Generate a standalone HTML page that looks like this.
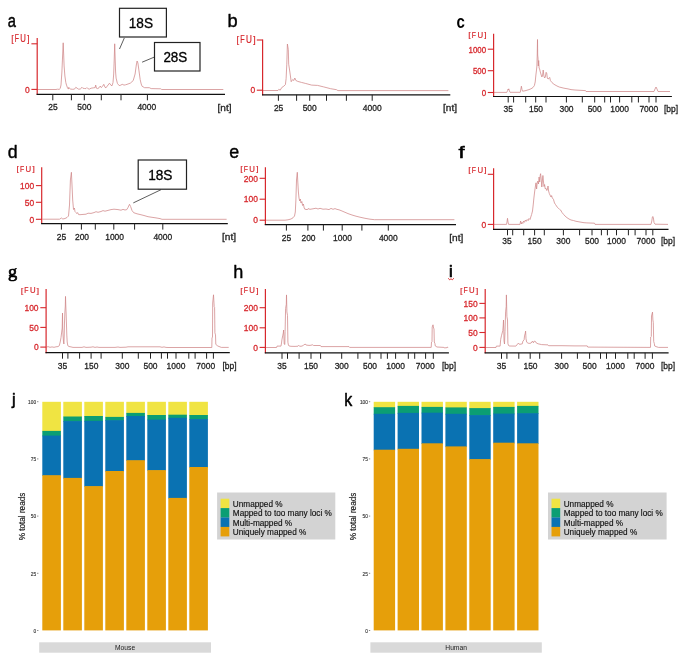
<!DOCTYPE html>
<html><head><meta charset="utf-8"><title>Figure</title>
<style>
html,body{margin:0;padding:0;background:#fff;}
body{width:685px;height:659px;overflow:hidden;font-family:"Liberation Sans",sans-serif;}
svg{display:block;will-change:transform;font-family:"Liberation Sans",sans-serif;}
</style></head><body>
<svg width="685" height="659" viewBox="0 0 685 659">
<rect x="0" y="0" width="685" height="659" fill="#ffffff"/>
<text transform="matrix(0.1471 0 0 0.1764 7.74 27.42)" font-family="Liberation Sans" font-size="100" font-weight="normal" fill="#000" stroke="#000" stroke-width="2.47" stroke-linejoin="round" >a</text>
<polyline points="37.5,89.5 56.0,89.5 57.5,89.2 59.2,89.4 60.2,88.5 61.0,85.0 61.9,72.0 62.5,58.0 63.2,42.8 63.7,55.0 64.1,66.0 64.9,76.0 65.8,82.5 66.5,85.1 67.5,87.8 68.4,89.1 68.8,87.3 69.7,88.6 70.6,89.1 72.8,89.3 74.5,89.1 75.8,87.3 77.1,88.2 78.4,89.1 80.2,89.1 82.0,87.3 82.8,88.2 84.6,88.5 85.9,88.6 86.9,87.6 88.1,88.8 89.4,89.1 91.1,88.2 93.8,87.8 95.1,87.6 95.7,85.1 96.4,88.2 97.7,88.6 99.0,87.8 100.3,86.0 101.2,87.6 102.5,86.4 103.8,84.3 105.0,87.3 106.0,87.8 107.3,86.0 109.5,83.2 110.8,85.1 112.0,85.8 113.0,82.5 113.7,74.0 114.2,60.0 114.7,43.8 115.2,60.0 115.6,72.0 116.1,78.1 117.4,83.4 119.2,85.6 120.9,85.1 122.2,84.3 124.0,85.1 125.6,84.8 128.0,84.0 130.4,83.1 133.2,80.6 135.1,74.0 136.3,65.0 137.1,61.0 137.9,63.0 138.6,68.0 140.2,79.7 141.2,84.0 142.1,86.3 144.6,87.7 149.3,87.7 151.2,88.6 160.7,88.8 161.7,89.5 223.3,89.5" fill="none" stroke="#cf8587" stroke-width="0.75" stroke-linejoin="round"/>
<text transform="matrix(0.0908 0 0 0.0936 11.34 41.76)" font-family="Liberation Sans" font-size="100" font-weight="normal" fill="#d7282d" stroke="#d7282d" stroke-width="1.63" stroke-linejoin="round" >[</text>
<text transform="matrix(0.0682 0 0 0.1016 14.82 42.45)" font-family="Liberation Sans" font-size="100" font-weight="normal" fill="#d7282d" stroke="#d7282d" stroke-width="2.36" stroke-linejoin="round" >F</text>
<text transform="matrix(0.0775 0 0 0.1014 20.35 42.44)" font-family="Liberation Sans" font-size="100" font-weight="normal" fill="#d7282d" stroke="#d7282d" stroke-width="2.24" stroke-linejoin="round" >U</text>
<text transform="matrix(0.0932 0 0 0.0936 27.02 41.76)" font-family="Liberation Sans" font-size="100" font-weight="normal" fill="#d7282d" stroke="#d7282d" stroke-width="1.61" stroke-linejoin="round" >]</text>
<line x1="37.2" y1="38.1" x2="37.2" y2="94.8" stroke="#d7282d" stroke-width="1.2"/>
<line x1="31.4" y1="43.8" x2="37.2" y2="43.8" stroke="#d7282d" stroke-width="1.1"/>
<line x1="31.4" y1="89.4" x2="37.2" y2="89.4" stroke="#d7282d" stroke-width="1.1"/>
<text x="29.7" y="92.6" font-size="9.4" fill="#d7282d" stroke="#d7282d" stroke-width="0.30" text-anchor="end" textLength="4.71" lengthAdjust="spacingAndGlyphs" >0</text>
<line x1="36.6" y1="94.3" x2="225.0" y2="94.3" stroke="#111" stroke-width="1.2"/>
<line x1="52.8" y1="94.3" x2="52.8" y2="100.3" stroke="#222222" stroke-width="1.0"/>
<line x1="71.4" y1="94.3" x2="71.4" y2="100.3" stroke="#222222" stroke-width="1.0"/>
<line x1="84.3" y1="94.3" x2="84.3" y2="100.3" stroke="#222222" stroke-width="1.0"/>
<line x1="101.3" y1="94.3" x2="101.3" y2="100.3" stroke="#222222" stroke-width="1.0"/>
<line x1="121.0" y1="94.3" x2="121.0" y2="100.3" stroke="#222222" stroke-width="1.0"/>
<line x1="147.4" y1="94.3" x2="147.4" y2="100.3" stroke="#222222" stroke-width="1.0"/>
<text x="53.0" y="110.4" font-size="9.4" fill="#222222" stroke="#222222" stroke-width="0.30" text-anchor="middle" textLength="9.41" lengthAdjust="spacingAndGlyphs" >25</text>
<text x="84.3" y="110.4" font-size="9.4" fill="#222222" stroke="#222222" stroke-width="0.30" text-anchor="middle" textLength="14.12" lengthAdjust="spacingAndGlyphs" >500</text>
<text x="146.8" y="110.4" font-size="9.4" fill="#222222" stroke="#222222" stroke-width="0.30" text-anchor="middle" textLength="18.82" lengthAdjust="spacingAndGlyphs" >4000</text>
<text x="217.5" y="110.7" font-size="9.4" fill="#222222" stroke="#222222" stroke-width="0.30" text-anchor="start" textLength="13.98" lengthAdjust="spacingAndGlyphs" >[nt]</text>
<line x1="124.3" y1="38.0" x2="119.5" y2="49.0" stroke="#333" stroke-width="0.8"/>
<rect x="119.5" y="8.3" width="46.9" height="28.7" fill="#fff" stroke="#222" stroke-width="1.2"/>
<text transform="matrix(0.1366 0 0 0.1423 128.73 27.66)" font-family="Liberation Sans" font-size="100" font-weight="normal" fill="#000" stroke="#000" stroke-width="2.15" stroke-linejoin="round" >18S</text>
<line x1="154.5" y1="57.0" x2="142.1" y2="62.2" stroke="#333" stroke-width="0.8"/>
<rect x="154.5" y="42.5" width="45.5" height="28.5" fill="#fff" stroke="#222" stroke-width="1.2"/>
<text transform="matrix(0.1345 0 0 0.1423 163.38 61.76)" font-family="Liberation Sans" font-size="100" font-weight="normal" fill="#000" stroke="#000" stroke-width="2.17" stroke-linejoin="round" >28S</text>
<text transform="matrix(0.1822 0 0 0.1823 227.52 27.42)" font-family="Liberation Sans" font-size="100" font-weight="normal" fill="#000" stroke="#000" stroke-width="2.19" stroke-linejoin="round" >b</text>
<polyline points="263.0,90.5 278.0,90.5 278.8,89.3 280.2,90.2 281.7,87.6 283.9,86.1 285.4,84.6 286.1,78.8 286.8,64.2 287.4,44.0 288.3,49.6 288.7,64.2 290.0,73.0 291.2,81.7 292.7,79.5 293.8,80.5 294.8,78.0 295.9,80.5 297.8,81.4 301.4,82.4 305.8,83.5 311.6,85.1 317.5,85.4 323.3,86.8 330.6,88.7 336.5,89.7 337.9,90.6 448.4,90.6" fill="none" stroke="#cf8587" stroke-width="0.75" stroke-linejoin="round"/>
<text transform="matrix(0.0954 0 0 0.0936 236.61 42.66)" font-family="Liberation Sans" font-size="100" font-weight="normal" fill="#d7282d" stroke="#d7282d" stroke-width="1.59" stroke-linejoin="round" >[</text>
<text transform="matrix(0.0715 0 0 0.1016 240.25 43.35)" font-family="Liberation Sans" font-size="100" font-weight="normal" fill="#d7282d" stroke="#d7282d" stroke-width="2.31" stroke-linejoin="round" >F</text>
<text transform="matrix(0.0813 0 0 0.1014 246.03 43.34)" font-family="Liberation Sans" font-size="100" font-weight="normal" fill="#d7282d" stroke="#d7282d" stroke-width="2.19" stroke-linejoin="round" >U</text>
<text transform="matrix(0.0979 0 0 0.0936 253.02 42.66)" font-family="Liberation Sans" font-size="100" font-weight="normal" fill="#d7282d" stroke="#d7282d" stroke-width="1.57" stroke-linejoin="round" >]</text>
<line x1="262.6" y1="39.4" x2="262.6" y2="95.3" stroke="#d7282d" stroke-width="1.2"/>
<line x1="256.8" y1="40.0" x2="262.6" y2="40.0" stroke="#d7282d" stroke-width="1.1"/>
<line x1="256.8" y1="90.2" x2="262.6" y2="90.2" stroke="#d7282d" stroke-width="1.1"/>
<text x="255.1" y="93.4" font-size="9.4" fill="#d7282d" stroke="#d7282d" stroke-width="0.30" text-anchor="end" textLength="4.71" lengthAdjust="spacingAndGlyphs" >0</text>
<line x1="262.0" y1="94.8" x2="450.3" y2="94.8" stroke="#111" stroke-width="1.2"/>
<line x1="278.4" y1="94.8" x2="278.4" y2="100.8" stroke="#222222" stroke-width="1.0"/>
<line x1="296.6" y1="94.8" x2="296.6" y2="100.8" stroke="#222222" stroke-width="1.0"/>
<line x1="309.7" y1="94.8" x2="309.7" y2="100.8" stroke="#222222" stroke-width="1.0"/>
<line x1="326.5" y1="94.8" x2="326.5" y2="100.8" stroke="#222222" stroke-width="1.0"/>
<line x1="346.4" y1="94.8" x2="346.4" y2="100.8" stroke="#222222" stroke-width="1.0"/>
<line x1="372.2" y1="94.8" x2="372.2" y2="100.8" stroke="#222222" stroke-width="1.0"/>
<text x="278.6" y="110.9" font-size="9.4" fill="#222222" stroke="#222222" stroke-width="0.30" text-anchor="middle" textLength="9.41" lengthAdjust="spacingAndGlyphs" >25</text>
<text x="309.7" y="110.9" font-size="9.4" fill="#222222" stroke="#222222" stroke-width="0.30" text-anchor="middle" textLength="14.12" lengthAdjust="spacingAndGlyphs" >500</text>
<text x="372.2" y="110.9" font-size="9.4" fill="#222222" stroke="#222222" stroke-width="0.30" text-anchor="middle" textLength="18.82" lengthAdjust="spacingAndGlyphs" >4000</text>
<text x="443.0" y="111.2" font-size="9.4" fill="#222222" stroke="#222222" stroke-width="0.30" text-anchor="start" textLength="13.98" lengthAdjust="spacingAndGlyphs" >[nt]</text>
<text transform="matrix(0.1505 0 0 0.1800 456.50 27.72)" font-family="Liberation Sans" font-size="100" font-weight="bold" fill="#000"  >c</text>
<polyline points="494.0,92.4 506.8,92.4 507.6,90.5 508.0,89.2 508.4,90.0 508.8,88.8 509.4,91.0 510.0,92.3 520.3,92.3 520.9,89.0 521.4,86.2 522.0,89.5 522.6,91.2 525.0,90.8 527.0,90.2 529.0,89.6 531.0,88.8 533.0,87.5 534.4,85.5 535.2,82.0 535.9,75.0 536.5,70.0 536.9,66.0 537.2,56.0 537.5,39.5 537.7,55.0 538.0,58.0 538.3,66.0 538.7,60.5 539.1,68.0 539.6,69.0 540.3,72.0 541.2,75.0 541.9,77.0 542.6,75.0 543.2,70.0 543.9,76.0 544.6,78.0 545.3,77.0 546.1,72.3 546.7,73.0 547.3,78.0 548.0,79.0 548.9,78.5 549.7,77.4 550.4,80.5 552.0,82.6 554.0,84.3 557.0,86.0 559.2,87.0 564.0,88.2 568.0,88.9 571.0,89.6 575.0,90.0 580.0,90.3 585.5,90.6 586.0,91.5 654.0,91.5 655.0,89.0 656.0,87.0 657.0,89.0 658.0,91.5 670.0,91.5" fill="none" stroke="#cf8587" stroke-width="0.75" stroke-linejoin="round"/>
<text transform="matrix(0.0914 0 0 0.0807 468.34 37.33)" font-family="Liberation Sans" font-size="100" font-weight="normal" fill="#d7282d" stroke="#d7282d" stroke-width="1.74" stroke-linejoin="round" >[</text>
<text transform="matrix(0.0686 0 0 0.0875 471.84 37.92)" font-family="Liberation Sans" font-size="100" font-weight="normal" fill="#d7282d" stroke="#d7282d" stroke-width="2.56" stroke-linejoin="round" >F</text>
<text transform="matrix(0.0780 0 0 0.0873 477.39 37.91)" font-family="Liberation Sans" font-size="100" font-weight="normal" fill="#d7282d" stroke="#d7282d" stroke-width="2.42" stroke-linejoin="round" >U</text>
<text transform="matrix(0.0937 0 0 0.0807 484.10 37.33)" font-family="Liberation Sans" font-size="100" font-weight="normal" fill="#d7282d" stroke="#d7282d" stroke-width="1.72" stroke-linejoin="round" >]</text>
<line x1="493.6" y1="33.7" x2="493.6" y2="97.0" stroke="#d7282d" stroke-width="1.2"/>
<line x1="487.8" y1="49.2" x2="493.6" y2="49.2" stroke="#d7282d" stroke-width="1.1"/>
<text x="486.1" y="52.7" font-size="8.3" fill="#d7282d" stroke="#d7282d" stroke-width="0.30" text-anchor="end" textLength="17.54" lengthAdjust="spacingAndGlyphs" >1000</text>
<line x1="487.8" y1="70.7" x2="493.6" y2="70.7" stroke="#d7282d" stroke-width="1.1"/>
<text x="486.1" y="74.2" font-size="8.3" fill="#d7282d" stroke="#d7282d" stroke-width="0.30" text-anchor="end" textLength="13.16" lengthAdjust="spacingAndGlyphs" >500</text>
<line x1="487.8" y1="92.5" x2="493.6" y2="92.5" stroke="#d7282d" stroke-width="1.1"/>
<text x="486.1" y="96.0" font-size="8.3" fill="#d7282d" stroke="#d7282d" stroke-width="0.30" text-anchor="end" textLength="4.39" lengthAdjust="spacingAndGlyphs" >0</text>
<line x1="493.0" y1="96.5" x2="671.9" y2="96.5" stroke="#111" stroke-width="1.2"/>
<line x1="508.2" y1="96.5" x2="508.2" y2="102.5" stroke="#222222" stroke-width="1.0"/>
<line x1="513.6" y1="96.5" x2="513.6" y2="102.5" stroke="#222222" stroke-width="1.0"/>
<line x1="525.7" y1="96.5" x2="525.7" y2="102.5" stroke="#222222" stroke-width="1.0"/>
<line x1="535.7" y1="96.5" x2="535.7" y2="102.5" stroke="#222222" stroke-width="1.0"/>
<line x1="546.0" y1="96.5" x2="546.0" y2="102.5" stroke="#222222" stroke-width="1.0"/>
<line x1="566.4" y1="96.5" x2="566.4" y2="102.5" stroke="#222222" stroke-width="1.0"/>
<line x1="582.3" y1="96.5" x2="582.3" y2="102.5" stroke="#222222" stroke-width="1.0"/>
<line x1="594.7" y1="96.5" x2="594.7" y2="102.5" stroke="#222222" stroke-width="1.0"/>
<line x1="604.7" y1="96.5" x2="604.7" y2="102.5" stroke="#222222" stroke-width="1.0"/>
<line x1="610.5" y1="96.5" x2="610.5" y2="102.5" stroke="#222222" stroke-width="1.0"/>
<line x1="619.6" y1="96.5" x2="619.6" y2="102.5" stroke="#222222" stroke-width="1.0"/>
<line x1="631.8" y1="96.5" x2="631.8" y2="102.5" stroke="#222222" stroke-width="1.0"/>
<line x1="638.4" y1="96.5" x2="638.4" y2="102.5" stroke="#222222" stroke-width="1.0"/>
<line x1="649.0" y1="96.5" x2="649.0" y2="102.5" stroke="#222222" stroke-width="1.0"/>
<line x1="656.0" y1="96.5" x2="656.0" y2="102.5" stroke="#222222" stroke-width="1.0"/>
<text x="508.2" y="112.0" font-size="9.4" fill="#222222" stroke="#222222" stroke-width="0.30" text-anchor="middle" textLength="9.41" lengthAdjust="spacingAndGlyphs" >35</text>
<text x="536.0" y="112.0" font-size="9.4" fill="#222222" stroke="#222222" stroke-width="0.30" text-anchor="middle" textLength="14.12" lengthAdjust="spacingAndGlyphs" >150</text>
<text x="566.5" y="112.0" font-size="9.4" fill="#222222" stroke="#222222" stroke-width="0.30" text-anchor="middle" textLength="14.12" lengthAdjust="spacingAndGlyphs" >300</text>
<text x="594.7" y="112.0" font-size="9.4" fill="#222222" stroke="#222222" stroke-width="0.30" text-anchor="middle" textLength="14.12" lengthAdjust="spacingAndGlyphs" >500</text>
<text x="619.6" y="112.0" font-size="9.4" fill="#222222" stroke="#222222" stroke-width="0.30" text-anchor="middle" textLength="18.82" lengthAdjust="spacingAndGlyphs" >1000</text>
<text x="648.8" y="112.0" font-size="9.4" fill="#222222" stroke="#222222" stroke-width="0.30" text-anchor="middle" textLength="18.82" lengthAdjust="spacingAndGlyphs" >7000</text>
<text x="664.0" y="112.0" font-size="9.4" fill="#222222" stroke="#222222" stroke-width="0.30" text-anchor="start" textLength="14.11" lengthAdjust="spacingAndGlyphs" >[bp]</text>
<text transform="matrix(0.1778 0 0 0.1755 7.69 157.82)" font-family="Liberation Sans" font-size="100" font-weight="normal" fill="#000" stroke="#000" stroke-width="2.26" stroke-linejoin="round" >d</text>
<polyline points="42.3,219.2 59.5,219.2 61.5,218.0 62.8,219.0 65.0,218.5 67.0,217.5 68.5,216.0 69.5,205.0 70.4,180.0 71.4,172.3 72.0,185.0 72.7,200.0 73.5,209.5 74.4,208.0 75.0,211.5 76.0,212.5 76.8,213.6 77.6,212.6 78.6,214.6 80.0,214.7 82.0,214.5 86.0,214.2 88.0,213.2 91.0,213.4 94.0,212.6 96.0,211.7 98.0,212.3 101.0,211.5 103.0,210.6 105.0,211.2 108.0,210.4 111.0,209.6 114.0,209.2 118.0,209.6 121.0,210.2 123.0,209.4 125.0,210.0 126.8,209.6 128.0,207.5 129.5,204.3 130.6,206.5 132.0,210.5 133.7,212.7 137.0,213.8 140.0,214.5 144.0,215.5 148.0,216.7 152.0,217.3 156.0,217.9 160.0,218.6 162.0,219.3 226.6,219.3" fill="none" stroke="#cf8587" stroke-width="0.75" stroke-linejoin="round"/>
<text transform="matrix(0.0914 0 0 0.0807 16.44 170.93)" font-family="Liberation Sans" font-size="100" font-weight="normal" fill="#d7282d" stroke="#d7282d" stroke-width="1.74" stroke-linejoin="round" >[</text>
<text transform="matrix(0.0686 0 0 0.0875 19.94 171.52)" font-family="Liberation Sans" font-size="100" font-weight="normal" fill="#d7282d" stroke="#d7282d" stroke-width="2.56" stroke-linejoin="round" >F</text>
<text transform="matrix(0.0780 0 0 0.0873 25.49 171.51)" font-family="Liberation Sans" font-size="100" font-weight="normal" fill="#d7282d" stroke="#d7282d" stroke-width="2.42" stroke-linejoin="round" >U</text>
<text transform="matrix(0.0937 0 0 0.0807 32.20 170.93)" font-family="Liberation Sans" font-size="100" font-weight="normal" fill="#d7282d" stroke="#d7282d" stroke-width="1.72" stroke-linejoin="round" >]</text>
<line x1="41.7" y1="167.3" x2="41.7" y2="224.1" stroke="#d7282d" stroke-width="1.2"/>
<line x1="35.9" y1="185.6" x2="41.7" y2="185.6" stroke="#d7282d" stroke-width="1.1"/>
<text x="34.2" y="188.8" font-size="9.4" fill="#d7282d" stroke="#d7282d" stroke-width="0.30" text-anchor="end" textLength="14.12" lengthAdjust="spacingAndGlyphs" >100</text>
<line x1="35.9" y1="202.3" x2="41.7" y2="202.3" stroke="#d7282d" stroke-width="1.1"/>
<text x="34.2" y="205.5" font-size="9.4" fill="#d7282d" stroke="#d7282d" stroke-width="0.30" text-anchor="end" textLength="9.41" lengthAdjust="spacingAndGlyphs" >50</text>
<line x1="35.9" y1="219.3" x2="41.7" y2="219.3" stroke="#d7282d" stroke-width="1.1"/>
<text x="34.2" y="222.5" font-size="9.4" fill="#d7282d" stroke="#d7282d" stroke-width="0.30" text-anchor="end" textLength="4.71" lengthAdjust="spacingAndGlyphs" >0</text>
<line x1="41.1" y1="223.6" x2="227.8" y2="223.6" stroke="#111" stroke-width="1.2"/>
<line x1="61.4" y1="223.6" x2="61.4" y2="229.6" stroke="#222222" stroke-width="1.0"/>
<line x1="81.4" y1="223.6" x2="81.4" y2="229.6" stroke="#222222" stroke-width="1.0"/>
<line x1="95.3" y1="223.6" x2="95.3" y2="229.6" stroke="#222222" stroke-width="1.0"/>
<line x1="113.8" y1="223.6" x2="113.8" y2="229.6" stroke="#222222" stroke-width="1.0"/>
<line x1="134.6" y1="223.6" x2="134.6" y2="229.6" stroke="#222222" stroke-width="1.0"/>
<line x1="162.8" y1="223.6" x2="162.8" y2="229.6" stroke="#222222" stroke-width="1.0"/>
<text x="61.4" y="239.7" font-size="9.4" fill="#222222" stroke="#222222" stroke-width="0.30" text-anchor="middle" textLength="9.41" lengthAdjust="spacingAndGlyphs" >25</text>
<text x="82.0" y="239.7" font-size="9.4" fill="#222222" stroke="#222222" stroke-width="0.30" text-anchor="middle" textLength="14.12" lengthAdjust="spacingAndGlyphs" >200</text>
<text x="114.6" y="239.7" font-size="9.4" fill="#222222" stroke="#222222" stroke-width="0.30" text-anchor="middle" textLength="18.82" lengthAdjust="spacingAndGlyphs" >1000</text>
<text x="162.8" y="239.7" font-size="9.4" fill="#222222" stroke="#222222" stroke-width="0.30" text-anchor="middle" textLength="18.82" lengthAdjust="spacingAndGlyphs" >4000</text>
<text x="222.0" y="240.0" font-size="9.4" fill="#222222" stroke="#222222" stroke-width="0.30" text-anchor="start" textLength="13.98" lengthAdjust="spacingAndGlyphs" >[nt]</text>
<line x1="161.0" y1="189.7" x2="133.3" y2="202.9" stroke="#333" stroke-width="0.8"/>
<rect x="138.2" y="160.0" width="48.3" height="29.2" fill="#fff" stroke="#222" stroke-width="1.2"/>
<text transform="matrix(0.1366 0 0 0.1423 148.13 179.61)" font-family="Liberation Sans" font-size="100" font-weight="normal" fill="#000" stroke="#000" stroke-width="2.15" stroke-linejoin="round" >18S</text>
<text transform="matrix(0.1785 0 0 0.1800 229.30 158.02)" font-family="Liberation Sans" font-size="100" font-weight="normal" fill="#000" stroke="#000" stroke-width="2.23" stroke-linejoin="round" >e</text>
<polyline points="265.8,220.2 285.0,220.2 288.0,219.8 291.0,219.0 293.0,217.8 294.5,216.0 295.3,212.0 295.9,200.0 296.5,180.0 297.3,172.3 297.8,182.0 298.4,192.0 299.0,198.0 299.7,201.0 300.3,199.0 301.0,203.0 301.8,201.5 302.6,205.5 303.4,204.0 304.2,208.0 305.0,209.5 306.0,209.0 307.0,210.0 308.0,208.6 310.0,209.3 313.0,208.8 316.0,208.2 318.0,209.0 320.0,208.3 323.0,209.2 326.0,209.0 329.0,209.6 331.0,208.4 333.0,209.3 335.0,208.6 337.0,209.4 339.0,209.8 342.0,211.0 345.0,212.3 348.0,213.6 352.0,215.0 356.0,216.2 360.0,217.2 365.0,218.3 370.0,219.2 374.6,219.7 454.4,219.7" fill="none" stroke="#cf8587" stroke-width="0.75" stroke-linejoin="round"/>
<text transform="matrix(0.0914 0 0 0.0807 240.14 170.93)" font-family="Liberation Sans" font-size="100" font-weight="normal" fill="#d7282d" stroke="#d7282d" stroke-width="1.74" stroke-linejoin="round" >[</text>
<text transform="matrix(0.0686 0 0 0.0875 243.64 171.52)" font-family="Liberation Sans" font-size="100" font-weight="normal" fill="#d7282d" stroke="#d7282d" stroke-width="2.56" stroke-linejoin="round" >F</text>
<text transform="matrix(0.0780 0 0 0.0873 249.19 171.51)" font-family="Liberation Sans" font-size="100" font-weight="normal" fill="#d7282d" stroke="#d7282d" stroke-width="2.42" stroke-linejoin="round" >U</text>
<text transform="matrix(0.0937 0 0 0.0807 255.90 170.93)" font-family="Liberation Sans" font-size="100" font-weight="normal" fill="#d7282d" stroke="#d7282d" stroke-width="1.72" stroke-linejoin="round" >]</text>
<line x1="265.4" y1="167.3" x2="265.4" y2="225.1" stroke="#d7282d" stroke-width="1.2"/>
<line x1="259.6" y1="178.3" x2="265.4" y2="178.3" stroke="#d7282d" stroke-width="1.1"/>
<text x="257.9" y="181.5" font-size="9.4" fill="#d7282d" stroke="#d7282d" stroke-width="0.30" text-anchor="end" textLength="14.12" lengthAdjust="spacingAndGlyphs" >200</text>
<line x1="259.6" y1="199.2" x2="265.4" y2="199.2" stroke="#d7282d" stroke-width="1.1"/>
<text x="257.9" y="202.4" font-size="9.4" fill="#d7282d" stroke="#d7282d" stroke-width="0.30" text-anchor="end" textLength="14.12" lengthAdjust="spacingAndGlyphs" >100</text>
<line x1="259.6" y1="220.2" x2="265.4" y2="220.2" stroke="#d7282d" stroke-width="1.1"/>
<text x="257.9" y="223.4" font-size="9.4" fill="#d7282d" stroke="#d7282d" stroke-width="0.30" text-anchor="end" textLength="4.71" lengthAdjust="spacingAndGlyphs" >0</text>
<line x1="264.8" y1="224.6" x2="456.0" y2="224.6" stroke="#111" stroke-width="1.2"/>
<line x1="286.4" y1="224.6" x2="286.4" y2="230.6" stroke="#222222" stroke-width="1.0"/>
<line x1="307.9" y1="224.6" x2="307.9" y2="230.6" stroke="#222222" stroke-width="1.0"/>
<line x1="323.4" y1="224.6" x2="323.4" y2="230.6" stroke="#222222" stroke-width="1.0"/>
<line x1="342.2" y1="224.6" x2="342.2" y2="230.6" stroke="#222222" stroke-width="1.0"/>
<line x1="361.9" y1="224.6" x2="361.9" y2="230.6" stroke="#222222" stroke-width="1.0"/>
<line x1="388.3" y1="224.6" x2="388.3" y2="230.6" stroke="#222222" stroke-width="1.0"/>
<text x="286.4" y="240.7" font-size="9.4" fill="#222222" stroke="#222222" stroke-width="0.30" text-anchor="middle" textLength="9.41" lengthAdjust="spacingAndGlyphs" >25</text>
<text x="308.5" y="240.7" font-size="9.4" fill="#222222" stroke="#222222" stroke-width="0.30" text-anchor="middle" textLength="14.12" lengthAdjust="spacingAndGlyphs" >200</text>
<text x="342.5" y="240.7" font-size="9.4" fill="#222222" stroke="#222222" stroke-width="0.30" text-anchor="middle" textLength="18.82" lengthAdjust="spacingAndGlyphs" >1000</text>
<text x="388.3" y="240.7" font-size="9.4" fill="#222222" stroke="#222222" stroke-width="0.30" text-anchor="middle" textLength="18.82" lengthAdjust="spacingAndGlyphs" >4000</text>
<text x="449.3" y="241.0" font-size="9.4" fill="#222222" stroke="#222222" stroke-width="0.30" text-anchor="start" textLength="13.98" lengthAdjust="spacingAndGlyphs" >[nt]</text>
<text transform="matrix(0.2189 0 0 0.1724 458.47 157.70)" font-family="Liberation Sans" font-size="100" font-weight="normal" fill="#000" stroke="#000" stroke-width="3.07" stroke-linejoin="round" >f</text>
<polyline points="494.0,224.4 506.5,224.4 507.0,222.0 507.5,218.3 508.0,222.0 508.6,224.4 520.0,224.4 520.6,221.0 521.3,224.0 522.0,222.3 522.8,223.5 523.6,221.0 524.5,222.3 525.4,220.0 526.3,221.3 527.2,219.5 528.2,220.6 529.0,218.5 530.0,219.5 530.8,217.0 531.6,214.5 532.5,211.0 533.2,205.0 533.9,198.0 534.6,192.0 535.3,187.0 536.0,182.8 536.6,189.0 537.2,183.0 537.9,181.0 538.5,184.0 539.1,177.0 539.7,182.0 540.2,175.5 540.6,173.7 541.2,179.0 541.8,187.0 542.4,181.0 542.9,175.5 543.4,181.0 544.0,186.5 544.6,184.5 545.2,188.8 546.0,188.3 546.8,190.5 547.5,189.0 548.0,186.0 548.6,191.0 549.3,193.5 550.0,195.0 551.0,197.0 551.6,195.6 552.3,198.0 553.4,199.2 554.5,203.0 555.5,204.5 556.5,206.0 557.5,207.5 558.5,208.3 559.5,209.3 560.6,210.0 562.0,212.5 563.5,214.3 565.0,216.0 567.0,217.7 569.0,219.0 571.0,220.0 573.4,220.5 576.0,221.3 580.0,222.0 584.0,222.7 586.9,222.9 594.5,223.2 595.0,224.4 651.0,224.4 651.8,221.0 652.4,217.0 652.8,216.5 653.4,218.0 654.0,222.5 655.0,224.2 668.0,224.4" fill="none" stroke="#cf8587" stroke-width="0.75" stroke-linejoin="round"/>
<text transform="matrix(0.0914 0 0 0.0807 468.34 171.93)" font-family="Liberation Sans" font-size="100" font-weight="normal" fill="#d7282d" stroke="#d7282d" stroke-width="1.74" stroke-linejoin="round" >[</text>
<text transform="matrix(0.0686 0 0 0.0875 471.84 172.52)" font-family="Liberation Sans" font-size="100" font-weight="normal" fill="#d7282d" stroke="#d7282d" stroke-width="2.56" stroke-linejoin="round" >F</text>
<text transform="matrix(0.0780 0 0 0.0873 477.39 172.51)" font-family="Liberation Sans" font-size="100" font-weight="normal" fill="#d7282d" stroke="#d7282d" stroke-width="2.42" stroke-linejoin="round" >U</text>
<text transform="matrix(0.0937 0 0 0.0807 484.10 171.93)" font-family="Liberation Sans" font-size="100" font-weight="normal" fill="#d7282d" stroke="#d7282d" stroke-width="1.72" stroke-linejoin="round" >]</text>
<line x1="493.6" y1="168.3" x2="493.6" y2="229.8" stroke="#d7282d" stroke-width="1.2"/>
<line x1="487.8" y1="174.3" x2="493.6" y2="174.3" stroke="#d7282d" stroke-width="1.1"/>
<line x1="487.8" y1="224.4" x2="493.6" y2="224.4" stroke="#d7282d" stroke-width="1.1"/>
<text x="486.1" y="227.6" font-size="9.4" fill="#d7282d" stroke="#d7282d" stroke-width="0.30" text-anchor="end" textLength="4.71" lengthAdjust="spacingAndGlyphs" >0</text>
<line x1="493.0" y1="229.3" x2="668.5" y2="229.3" stroke="#111" stroke-width="1.2"/>
<line x1="507.5" y1="229.3" x2="507.5" y2="235.3" stroke="#222222" stroke-width="1.0"/>
<line x1="512.7" y1="229.3" x2="512.7" y2="235.3" stroke="#222222" stroke-width="1.0"/>
<line x1="523.7" y1="229.3" x2="523.7" y2="235.3" stroke="#222222" stroke-width="1.0"/>
<line x1="534.6" y1="229.3" x2="534.6" y2="235.3" stroke="#222222" stroke-width="1.0"/>
<line x1="544.3" y1="229.3" x2="544.3" y2="235.3" stroke="#222222" stroke-width="1.0"/>
<line x1="563.4" y1="229.3" x2="563.4" y2="235.3" stroke="#222222" stroke-width="1.0"/>
<line x1="579.6" y1="229.3" x2="579.6" y2="235.3" stroke="#222222" stroke-width="1.0"/>
<line x1="592.0" y1="229.3" x2="592.0" y2="235.3" stroke="#222222" stroke-width="1.0"/>
<line x1="601.4" y1="229.3" x2="601.4" y2="235.3" stroke="#222222" stroke-width="1.0"/>
<line x1="607.4" y1="229.3" x2="607.4" y2="235.3" stroke="#222222" stroke-width="1.0"/>
<line x1="616.5" y1="229.3" x2="616.5" y2="235.3" stroke="#222222" stroke-width="1.0"/>
<line x1="628.4" y1="229.3" x2="628.4" y2="235.3" stroke="#222222" stroke-width="1.0"/>
<line x1="635.1" y1="229.3" x2="635.1" y2="235.3" stroke="#222222" stroke-width="1.0"/>
<line x1="646.0" y1="229.3" x2="646.0" y2="235.3" stroke="#222222" stroke-width="1.0"/>
<line x1="652.8" y1="229.3" x2="652.8" y2="235.3" stroke="#222222" stroke-width="1.0"/>
<text x="507.0" y="243.8" font-size="9.4" fill="#222222" stroke="#222222" stroke-width="0.30" text-anchor="middle" textLength="9.41" lengthAdjust="spacingAndGlyphs" >35</text>
<text x="534.6" y="243.8" font-size="9.4" fill="#222222" stroke="#222222" stroke-width="0.30" text-anchor="middle" textLength="14.12" lengthAdjust="spacingAndGlyphs" >150</text>
<text x="563.4" y="243.8" font-size="9.4" fill="#222222" stroke="#222222" stroke-width="0.30" text-anchor="middle" textLength="14.12" lengthAdjust="spacingAndGlyphs" >300</text>
<text x="592.0" y="243.8" font-size="9.4" fill="#222222" stroke="#222222" stroke-width="0.30" text-anchor="middle" textLength="14.12" lengthAdjust="spacingAndGlyphs" >500</text>
<text x="616.5" y="243.8" font-size="9.4" fill="#222222" stroke="#222222" stroke-width="0.30" text-anchor="middle" textLength="18.82" lengthAdjust="spacingAndGlyphs" >1000</text>
<text x="646.0" y="243.8" font-size="9.4" fill="#222222" stroke="#222222" stroke-width="0.30" text-anchor="middle" textLength="18.82" lengthAdjust="spacingAndGlyphs" >7000</text>
<text x="661.0" y="243.8" font-size="9.4" fill="#222222" stroke="#222222" stroke-width="0.30" text-anchor="start" textLength="14.11" lengthAdjust="spacingAndGlyphs" >[bp]</text>
<text transform="matrix(0.1839 0 0 0.1655 8.02 276.99)" font-family="Liberation Serif" font-size="100" font-weight="normal" fill="#000" stroke="#000" stroke-width="4.01" stroke-linejoin="round" >g</text>
<polyline points="46.5,347.2 48.0,346.6 50.0,347.3 52.0,346.9 54.0,347.3 56.0,346.8 58.0,346.6 59.3,345.7 60.2,342.0 61.0,337.6 61.7,332.0 62.2,328.0 62.5,313.0 62.7,328.0 63.1,336.0 63.5,342.0 63.9,344.0 64.2,336.0 64.5,322.0 64.9,312.0 65.3,306.0 65.5,296.4 65.8,306.0 66.1,313.0 66.4,322.0 66.8,335.0 67.2,342.0 67.8,345.7 69.0,346.5 71.0,346.9 73.0,347.4 82.0,347.4 84.0,346.8 86.0,347.4 91.0,347.2 93.0,346.8 95.0,347.4 97.0,347.0 99.0,347.4 115.0,347.4 118.0,347.0 120.0,347.4 126.0,347.2 128.0,346.8 160.0,346.8 162.0,347.3 164.0,346.9 166.0,347.4 168.0,347.5 211.8,347.5 212.0,338.0 212.5,337.0 212.7,303.0 213.5,294.8 214.2,306.8 214.6,307.3 214.9,332.8 215.5,334.9 215.8,344.4 217.8,346.0 221.3,347.4 228.7,347.4" fill="none" stroke="#cf8587" stroke-width="0.75" stroke-linejoin="round"/>
<text transform="matrix(0.0914 0 0 0.0807 20.84 292.73)" font-family="Liberation Sans" font-size="100" font-weight="normal" fill="#d7282d" stroke="#d7282d" stroke-width="1.74" stroke-linejoin="round" >[</text>
<text transform="matrix(0.0686 0 0 0.0875 24.34 293.32)" font-family="Liberation Sans" font-size="100" font-weight="normal" fill="#d7282d" stroke="#d7282d" stroke-width="2.56" stroke-linejoin="round" >F</text>
<text transform="matrix(0.0780 0 0 0.0873 29.89 293.31)" font-family="Liberation Sans" font-size="100" font-weight="normal" fill="#d7282d" stroke="#d7282d" stroke-width="2.42" stroke-linejoin="round" >U</text>
<text transform="matrix(0.0937 0 0 0.0807 36.60 292.73)" font-family="Liberation Sans" font-size="100" font-weight="normal" fill="#d7282d" stroke="#d7282d" stroke-width="1.72" stroke-linejoin="round" >]</text>
<line x1="46.1" y1="289.1" x2="46.1" y2="353.2" stroke="#d7282d" stroke-width="1.2"/>
<line x1="40.3" y1="307.7" x2="46.1" y2="307.7" stroke="#d7282d" stroke-width="1.1"/>
<text x="38.6" y="310.9" font-size="9.4" fill="#d7282d" stroke="#d7282d" stroke-width="0.30" text-anchor="end" textLength="14.12" lengthAdjust="spacingAndGlyphs" >100</text>
<line x1="40.3" y1="327.4" x2="46.1" y2="327.4" stroke="#d7282d" stroke-width="1.1"/>
<text x="38.6" y="330.6" font-size="9.4" fill="#d7282d" stroke="#d7282d" stroke-width="0.30" text-anchor="end" textLength="9.41" lengthAdjust="spacingAndGlyphs" >50</text>
<line x1="40.3" y1="347.1" x2="46.1" y2="347.1" stroke="#d7282d" stroke-width="1.1"/>
<text x="38.6" y="350.3" font-size="9.4" fill="#d7282d" stroke="#d7282d" stroke-width="0.30" text-anchor="end" textLength="4.71" lengthAdjust="spacingAndGlyphs" >0</text>
<line x1="45.5" y1="352.7" x2="229.8" y2="352.7" stroke="#111" stroke-width="1.2"/>
<line x1="62.5" y1="352.7" x2="62.5" y2="358.7" stroke="#222222" stroke-width="1.0"/>
<line x1="67.9" y1="352.7" x2="67.9" y2="358.7" stroke="#222222" stroke-width="1.0"/>
<line x1="79.6" y1="352.7" x2="79.6" y2="358.7" stroke="#222222" stroke-width="1.0"/>
<line x1="91.1" y1="352.7" x2="91.1" y2="358.7" stroke="#222222" stroke-width="1.0"/>
<line x1="101.1" y1="352.7" x2="101.1" y2="358.7" stroke="#222222" stroke-width="1.0"/>
<line x1="122.3" y1="352.7" x2="122.3" y2="358.7" stroke="#222222" stroke-width="1.0"/>
<line x1="138.3" y1="352.7" x2="138.3" y2="358.7" stroke="#222222" stroke-width="1.0"/>
<line x1="150.5" y1="352.7" x2="150.5" y2="358.7" stroke="#222222" stroke-width="1.0"/>
<line x1="161.4" y1="352.7" x2="161.4" y2="358.7" stroke="#222222" stroke-width="1.0"/>
<line x1="167.5" y1="352.7" x2="167.5" y2="358.7" stroke="#222222" stroke-width="1.0"/>
<line x1="176.0" y1="352.7" x2="176.0" y2="358.7" stroke="#222222" stroke-width="1.0"/>
<line x1="188.8" y1="352.7" x2="188.8" y2="358.7" stroke="#222222" stroke-width="1.0"/>
<line x1="195.1" y1="352.7" x2="195.1" y2="358.7" stroke="#222222" stroke-width="1.0"/>
<line x1="206.6" y1="352.7" x2="206.6" y2="358.7" stroke="#222222" stroke-width="1.0"/>
<line x1="213.4" y1="352.7" x2="213.4" y2="358.7" stroke="#222222" stroke-width="1.0"/>
<text x="62.5" y="368.5" font-size="9.4" fill="#222222" stroke="#222222" stroke-width="0.30" text-anchor="middle" textLength="9.41" lengthAdjust="spacingAndGlyphs" >35</text>
<text x="91.4" y="368.5" font-size="9.4" fill="#222222" stroke="#222222" stroke-width="0.30" text-anchor="middle" textLength="14.12" lengthAdjust="spacingAndGlyphs" >150</text>
<text x="122.3" y="368.5" font-size="9.4" fill="#222222" stroke="#222222" stroke-width="0.30" text-anchor="middle" textLength="14.12" lengthAdjust="spacingAndGlyphs" >300</text>
<text x="150.5" y="368.5" font-size="9.4" fill="#222222" stroke="#222222" stroke-width="0.30" text-anchor="middle" textLength="14.12" lengthAdjust="spacingAndGlyphs" >500</text>
<text x="176.0" y="368.5" font-size="9.4" fill="#222222" stroke="#222222" stroke-width="0.30" text-anchor="middle" textLength="18.82" lengthAdjust="spacingAndGlyphs" >1000</text>
<text x="205.7" y="368.5" font-size="9.4" fill="#222222" stroke="#222222" stroke-width="0.30" text-anchor="middle" textLength="18.82" lengthAdjust="spacingAndGlyphs" >7000</text>
<text x="222.5" y="368.5" font-size="9.4" fill="#222222" stroke="#222222" stroke-width="0.30" text-anchor="start" textLength="14.11" lengthAdjust="spacingAndGlyphs" >[bp]</text>
<text transform="matrix(0.1810 0 0 0.1848 233.13 277.70)" font-family="Liberation Sans" font-size="100" font-weight="normal" fill="#000" stroke="#000" stroke-width="2.19" stroke-linejoin="round" >h</text>
<polyline points="265.8,347.5 276.6,347.5 277.0,346.1 281.0,346.1 281.5,343.0 281.9,339.9 282.8,335.2 283.3,333.0 283.6,330.0 283.9,336.0 284.2,344.0 284.8,344.6 285.1,331.7 285.6,308.4 286.3,304.3 286.5,294.9 286.9,311.9 287.5,315.4 287.9,342.2 288.4,345.0 289.1,346.0 291.0,346.3 295.0,346.4 298.0,346.2 298.8,345.3 299.6,346.3 302.0,346.1 303.5,345.2 305.2,344.0 306.0,345.0 308.0,345.3 310.0,345.4 312.8,344.8 313.6,345.5 320.4,345.5 321.0,346.6 349.0,346.6 349.6,347.4 431.2,347.4 431.5,342.0 432.0,341.5 432.2,327.0 433.0,324.8 433.6,328.0 434.0,329.0 434.3,342.0 434.9,343.5 435.3,346.0 437.0,347.0 444.0,347.4 445.0,348.2 446.0,347.4 447.0,348.0 447.6,347.0 448.2,347.4" fill="none" stroke="#cf8587" stroke-width="0.75" stroke-linejoin="round"/>
<text transform="matrix(0.0914 0 0 0.0807 240.14 292.73)" font-family="Liberation Sans" font-size="100" font-weight="normal" fill="#d7282d" stroke="#d7282d" stroke-width="1.74" stroke-linejoin="round" >[</text>
<text transform="matrix(0.0686 0 0 0.0875 243.64 293.32)" font-family="Liberation Sans" font-size="100" font-weight="normal" fill="#d7282d" stroke="#d7282d" stroke-width="2.56" stroke-linejoin="round" >F</text>
<text transform="matrix(0.0780 0 0 0.0873 249.19 293.31)" font-family="Liberation Sans" font-size="100" font-weight="normal" fill="#d7282d" stroke="#d7282d" stroke-width="2.42" stroke-linejoin="round" >U</text>
<text transform="matrix(0.0937 0 0 0.0807 255.90 292.73)" font-family="Liberation Sans" font-size="100" font-weight="normal" fill="#d7282d" stroke="#d7282d" stroke-width="1.72" stroke-linejoin="round" >]</text>
<line x1="265.4" y1="289.1" x2="265.4" y2="353.3" stroke="#d7282d" stroke-width="1.2"/>
<line x1="259.6" y1="307.7" x2="265.4" y2="307.7" stroke="#d7282d" stroke-width="1.1"/>
<text x="257.9" y="310.9" font-size="9.4" fill="#d7282d" stroke="#d7282d" stroke-width="0.30" text-anchor="end" textLength="14.12" lengthAdjust="spacingAndGlyphs" >200</text>
<line x1="259.6" y1="327.8" x2="265.4" y2="327.8" stroke="#d7282d" stroke-width="1.1"/>
<text x="257.9" y="331.0" font-size="9.4" fill="#d7282d" stroke="#d7282d" stroke-width="0.30" text-anchor="end" textLength="14.12" lengthAdjust="spacingAndGlyphs" >100</text>
<line x1="259.6" y1="347.4" x2="265.4" y2="347.4" stroke="#d7282d" stroke-width="1.1"/>
<text x="257.9" y="350.6" font-size="9.4" fill="#d7282d" stroke="#d7282d" stroke-width="0.30" text-anchor="end" textLength="4.71" lengthAdjust="spacingAndGlyphs" >0</text>
<line x1="264.8" y1="352.8" x2="448.9" y2="352.8" stroke="#111" stroke-width="1.2"/>
<line x1="282.0" y1="352.8" x2="282.0" y2="358.8" stroke="#222222" stroke-width="1.0"/>
<line x1="287.5" y1="352.8" x2="287.5" y2="358.8" stroke="#222222" stroke-width="1.0"/>
<line x1="299.1" y1="352.8" x2="299.1" y2="358.8" stroke="#222222" stroke-width="1.0"/>
<line x1="311.0" y1="352.8" x2="311.0" y2="358.8" stroke="#222222" stroke-width="1.0"/>
<line x1="320.6" y1="352.8" x2="320.6" y2="358.8" stroke="#222222" stroke-width="1.0"/>
<line x1="341.7" y1="352.8" x2="341.7" y2="358.8" stroke="#222222" stroke-width="1.0"/>
<line x1="357.9" y1="352.8" x2="357.9" y2="358.8" stroke="#222222" stroke-width="1.0"/>
<line x1="370.0" y1="352.8" x2="370.0" y2="358.8" stroke="#222222" stroke-width="1.0"/>
<line x1="381.0" y1="352.8" x2="381.0" y2="358.8" stroke="#222222" stroke-width="1.0"/>
<line x1="387.4" y1="352.8" x2="387.4" y2="358.8" stroke="#222222" stroke-width="1.0"/>
<line x1="395.6" y1="352.8" x2="395.6" y2="358.8" stroke="#222222" stroke-width="1.0"/>
<line x1="408.3" y1="352.8" x2="408.3" y2="358.8" stroke="#222222" stroke-width="1.0"/>
<line x1="414.7" y1="352.8" x2="414.7" y2="358.8" stroke="#222222" stroke-width="1.0"/>
<line x1="425.6" y1="352.8" x2="425.6" y2="358.8" stroke="#222222" stroke-width="1.0"/>
<line x1="433.3" y1="352.8" x2="433.3" y2="358.8" stroke="#222222" stroke-width="1.0"/>
<text x="282.0" y="368.6" font-size="9.4" fill="#222222" stroke="#222222" stroke-width="0.30" text-anchor="middle" textLength="9.41" lengthAdjust="spacingAndGlyphs" >35</text>
<text x="311.0" y="368.6" font-size="9.4" fill="#222222" stroke="#222222" stroke-width="0.30" text-anchor="middle" textLength="14.12" lengthAdjust="spacingAndGlyphs" >150</text>
<text x="341.7" y="368.6" font-size="9.4" fill="#222222" stroke="#222222" stroke-width="0.30" text-anchor="middle" textLength="14.12" lengthAdjust="spacingAndGlyphs" >300</text>
<text x="370.0" y="368.6" font-size="9.4" fill="#222222" stroke="#222222" stroke-width="0.30" text-anchor="middle" textLength="14.12" lengthAdjust="spacingAndGlyphs" >500</text>
<text x="395.6" y="368.6" font-size="9.4" fill="#222222" stroke="#222222" stroke-width="0.30" text-anchor="middle" textLength="18.82" lengthAdjust="spacingAndGlyphs" >1000</text>
<text x="425.2" y="368.6" font-size="9.4" fill="#222222" stroke="#222222" stroke-width="0.30" text-anchor="middle" textLength="18.82" lengthAdjust="spacingAndGlyphs" >7000</text>
<text x="442.0" y="368.6" font-size="9.4" fill="#222222" stroke="#222222" stroke-width="0.30" text-anchor="start" textLength="14.11" lengthAdjust="spacingAndGlyphs" >[bp]</text>
<text transform="matrix(0.1641 0 0 0.1641 448.94 276.95)" font-family="Liberation Sans" font-size="100" font-weight="normal" fill="#000" stroke="#000" stroke-width="4.26" stroke-linejoin="round" >i</text>
<polyline points="485.5,347.5 496.0,347.5 496.4,346.1 500.1,346.1 500.7,339.3 501.6,335.2 502.8,330.6 503.2,326.0 503.5,320.0 503.8,330.0 504.0,341.0 504.5,344.0 505.0,331.7 505.6,311.9 506.2,306.6 506.4,294.9 506.9,316.5 507.5,320.0 507.9,343.4 508.4,345.2 509.1,346.0 515.9,346.1 517.6,344.0 518.4,343.1 519.2,344.2 520.0,344.3 522.3,343.8 522.9,341.1 524.1,339.9 524.6,335.2 525.1,334.0 525.6,331.1 526.0,338.7 526.7,342.2 528.1,343.2 529.9,343.4 531.1,343.0 532.5,341.1 533.4,342.8 534.3,341.1 535.4,341.4 536.3,343.0 538.1,343.8 541.6,344.6 548.0,344.9 548.6,345.7 562.0,345.7 575.0,345.9 587.2,345.9 587.8,347.1 650.5,347.4 650.7,337.0 651.3,336.5 651.5,316.0 652.5,312.1 652.9,320.0 653.3,322.5 653.7,341.5 654.3,343.5 654.7,346.0 656.0,346.6 658.5,347.4 668.0,347.4" fill="none" stroke="#cf8587" stroke-width="0.75" stroke-linejoin="round"/>
<text transform="matrix(0.0914 0 0 0.0807 459.94 292.73)" font-family="Liberation Sans" font-size="100" font-weight="normal" fill="#d7282d" stroke="#d7282d" stroke-width="1.74" stroke-linejoin="round" >[</text>
<text transform="matrix(0.0686 0 0 0.0875 463.44 293.32)" font-family="Liberation Sans" font-size="100" font-weight="normal" fill="#d7282d" stroke="#d7282d" stroke-width="2.56" stroke-linejoin="round" >F</text>
<text transform="matrix(0.0780 0 0 0.0873 468.99 293.31)" font-family="Liberation Sans" font-size="100" font-weight="normal" fill="#d7282d" stroke="#d7282d" stroke-width="2.42" stroke-linejoin="round" >U</text>
<text transform="matrix(0.0937 0 0 0.0807 475.70 292.73)" font-family="Liberation Sans" font-size="100" font-weight="normal" fill="#d7282d" stroke="#d7282d" stroke-width="1.72" stroke-linejoin="round" >]</text>
<line x1="485.2" y1="289.1" x2="485.2" y2="353.3" stroke="#d7282d" stroke-width="1.2"/>
<line x1="479.4" y1="303.4" x2="485.2" y2="303.4" stroke="#d7282d" stroke-width="1.1"/>
<text x="477.7" y="306.6" font-size="9.4" fill="#d7282d" stroke="#d7282d" stroke-width="0.30" text-anchor="end" textLength="14.12" lengthAdjust="spacingAndGlyphs" >150</text>
<line x1="479.4" y1="317.9" x2="485.2" y2="317.9" stroke="#d7282d" stroke-width="1.1"/>
<text x="477.7" y="321.1" font-size="9.4" fill="#d7282d" stroke="#d7282d" stroke-width="0.30" text-anchor="end" textLength="14.12" lengthAdjust="spacingAndGlyphs" >100</text>
<line x1="479.4" y1="332.5" x2="485.2" y2="332.5" stroke="#d7282d" stroke-width="1.1"/>
<text x="477.7" y="335.7" font-size="9.4" fill="#d7282d" stroke="#d7282d" stroke-width="0.30" text-anchor="end" textLength="9.41" lengthAdjust="spacingAndGlyphs" >50</text>
<line x1="479.4" y1="347.4" x2="485.2" y2="347.4" stroke="#d7282d" stroke-width="1.1"/>
<text x="477.7" y="350.6" font-size="9.4" fill="#d7282d" stroke="#d7282d" stroke-width="0.30" text-anchor="end" textLength="4.71" lengthAdjust="spacingAndGlyphs" >0</text>
<line x1="484.6" y1="352.8" x2="668.6" y2="352.8" stroke="#111" stroke-width="1.2"/>
<line x1="501.5" y1="352.8" x2="501.5" y2="358.8" stroke="#222222" stroke-width="1.0"/>
<line x1="506.9" y1="352.8" x2="506.9" y2="358.8" stroke="#222222" stroke-width="1.0"/>
<line x1="518.8" y1="352.8" x2="518.8" y2="358.8" stroke="#222222" stroke-width="1.0"/>
<line x1="530.2" y1="352.8" x2="530.2" y2="358.8" stroke="#222222" stroke-width="1.0"/>
<line x1="539.7" y1="352.8" x2="539.7" y2="358.8" stroke="#222222" stroke-width="1.0"/>
<line x1="561.6" y1="352.8" x2="561.6" y2="358.8" stroke="#222222" stroke-width="1.0"/>
<line x1="577.4" y1="352.8" x2="577.4" y2="358.8" stroke="#222222" stroke-width="1.0"/>
<line x1="589.6" y1="352.8" x2="589.6" y2="358.8" stroke="#222222" stroke-width="1.0"/>
<line x1="600.5" y1="352.8" x2="600.5" y2="358.8" stroke="#222222" stroke-width="1.0"/>
<line x1="606.5" y1="352.8" x2="606.5" y2="358.8" stroke="#222222" stroke-width="1.0"/>
<line x1="615.5" y1="352.8" x2="615.5" y2="358.8" stroke="#222222" stroke-width="1.0"/>
<line x1="627.8" y1="352.8" x2="627.8" y2="358.8" stroke="#222222" stroke-width="1.0"/>
<line x1="634.2" y1="352.8" x2="634.2" y2="358.8" stroke="#222222" stroke-width="1.0"/>
<line x1="645.1" y1="352.8" x2="645.1" y2="358.8" stroke="#222222" stroke-width="1.0"/>
<line x1="652.4" y1="352.8" x2="652.4" y2="358.8" stroke="#222222" stroke-width="1.0"/>
<text x="501.5" y="368.6" font-size="9.4" fill="#222222" stroke="#222222" stroke-width="0.30" text-anchor="middle" textLength="9.41" lengthAdjust="spacingAndGlyphs" >35</text>
<text x="530.5" y="368.6" font-size="9.4" fill="#222222" stroke="#222222" stroke-width="0.30" text-anchor="middle" textLength="14.12" lengthAdjust="spacingAndGlyphs" >150</text>
<text x="561.6" y="368.6" font-size="9.4" fill="#222222" stroke="#222222" stroke-width="0.30" text-anchor="middle" textLength="14.12" lengthAdjust="spacingAndGlyphs" >300</text>
<text x="589.6" y="368.6" font-size="9.4" fill="#222222" stroke="#222222" stroke-width="0.30" text-anchor="middle" textLength="14.12" lengthAdjust="spacingAndGlyphs" >500</text>
<text x="615.5" y="368.6" font-size="9.4" fill="#222222" stroke="#222222" stroke-width="0.30" text-anchor="middle" textLength="18.82" lengthAdjust="spacingAndGlyphs" >1000</text>
<text x="645.0" y="368.6" font-size="9.4" fill="#222222" stroke="#222222" stroke-width="0.30" text-anchor="middle" textLength="18.82" lengthAdjust="spacingAndGlyphs" >7000</text>
<text x="661.0" y="368.6" font-size="9.4" fill="#222222" stroke="#222222" stroke-width="0.30" text-anchor="start" textLength="14.11" lengthAdjust="spacingAndGlyphs" >[bp]</text>
<path d="M448.1,278.3 L449.8,279.8 L451,278.7 L452.2,279.8 L454,278.2" fill="none" stroke="#e0393b" stroke-width="1.0"/>
<text transform="matrix(0.1636 0 0 0.1636 11.94 405.21)" font-family="Liberation Sans" font-size="100" font-weight="normal" fill="#000" stroke="#000" stroke-width="3.06" stroke-linejoin="round" >j</text>
<text x="36.1" y="403.9" font-size="4.8" fill="#333" stroke="#333" stroke-width="0.12" text-anchor="end">100</text>
<line x1="37.1" y1="401.7" x2="38.4" y2="401.7" stroke="#333" stroke-width="0.6"/>
<text x="36.1" y="461.1" font-size="4.8" fill="#333" stroke="#333" stroke-width="0.12" text-anchor="end">75</text>
<line x1="37.1" y1="458.9" x2="38.4" y2="458.9" stroke="#333" stroke-width="0.6"/>
<text x="36.1" y="518.3" font-size="4.8" fill="#333" stroke="#333" stroke-width="0.12" text-anchor="end">50</text>
<line x1="37.1" y1="516.1" x2="38.4" y2="516.1" stroke="#333" stroke-width="0.6"/>
<text x="36.1" y="575.5" font-size="4.8" fill="#333" stroke="#333" stroke-width="0.12" text-anchor="end">25</text>
<line x1="37.1" y1="573.3" x2="38.4" y2="573.3" stroke="#333" stroke-width="0.6"/>
<text x="36.1" y="632.7" font-size="4.8" fill="#333" stroke="#333" stroke-width="0.12" text-anchor="end">0</text>
<line x1="37.1" y1="630.5" x2="38.4" y2="630.5" stroke="#333" stroke-width="0.6"/>
<text transform="translate(24.6,516.5) rotate(-90)" font-size="8.17" fill="#111" stroke="#111" stroke-width="0.15" text-anchor="middle">% total reads</text>
<rect x="42.3" y="401.8" width="18.6" height="29.8" fill="#f0e442"/>
<rect x="42.3" y="430.9" width="18.6" height="5.4" fill="#0b9e73"/>
<rect x="42.3" y="435.6" width="18.6" height="40.3" fill="#0a72b2"/>
<rect x="42.3" y="475.2" width="18.6" height="155.2" fill="#e69f0a"/>
<rect x="63.3" y="401.8" width="18.6" height="15.4" fill="#f0e442"/>
<rect x="63.3" y="416.5" width="18.6" height="5.3" fill="#0b9e73"/>
<rect x="63.3" y="421.1" width="18.6" height="57.5" fill="#0a72b2"/>
<rect x="63.3" y="477.9" width="18.6" height="152.5" fill="#e69f0a"/>
<rect x="84.3" y="401.8" width="18.6" height="14.9" fill="#f0e442"/>
<rect x="84.3" y="416.0" width="18.6" height="5.6" fill="#0b9e73"/>
<rect x="84.3" y="420.9" width="18.6" height="65.9" fill="#0a72b2"/>
<rect x="84.3" y="486.1" width="18.6" height="144.3" fill="#e69f0a"/>
<rect x="105.3" y="401.8" width="18.6" height="15.8" fill="#f0e442"/>
<rect x="105.3" y="416.9" width="18.6" height="4.0" fill="#0b9e73"/>
<rect x="105.3" y="420.2" width="18.6" height="51.5" fill="#0a72b2"/>
<rect x="105.3" y="471.0" width="18.6" height="159.4" fill="#e69f0a"/>
<rect x="126.3" y="401.8" width="18.6" height="11.8" fill="#f0e442"/>
<rect x="126.3" y="412.9" width="18.6" height="3.8" fill="#0b9e73"/>
<rect x="126.3" y="416.0" width="18.6" height="44.9" fill="#0a72b2"/>
<rect x="126.3" y="460.2" width="18.6" height="170.2" fill="#e69f0a"/>
<rect x="147.3" y="401.8" width="18.6" height="13.9" fill="#f0e442"/>
<rect x="147.3" y="415.0" width="18.6" height="5.3" fill="#0b9e73"/>
<rect x="147.3" y="419.6" width="18.6" height="51.2" fill="#0a72b2"/>
<rect x="147.3" y="470.1" width="18.6" height="160.3" fill="#e69f0a"/>
<rect x="168.3" y="401.8" width="18.6" height="13.6" fill="#f0e442"/>
<rect x="168.3" y="414.7" width="18.6" height="3.8" fill="#0b9e73"/>
<rect x="168.3" y="417.8" width="18.6" height="80.8" fill="#0a72b2"/>
<rect x="168.3" y="497.9" width="18.6" height="132.5" fill="#e69f0a"/>
<rect x="189.3" y="401.8" width="18.6" height="13.9" fill="#f0e442"/>
<rect x="189.3" y="415.0" width="18.6" height="4.8" fill="#0b9e73"/>
<rect x="189.3" y="419.1" width="18.6" height="48.6" fill="#0a72b2"/>
<rect x="189.3" y="467.0" width="18.6" height="163.4" fill="#e69f0a"/>
<rect x="217.1" y="492.5" width="118.2" height="47" fill="#d3d3d3"/>
<rect x="220.6" y="498.7" width="8.7" height="9.5" fill="#f0e442"/>
<text x="232.8" y="506.8" font-size="8.4" fill="#111" stroke="#111" stroke-width="0.15" textLength="49.78" lengthAdjust="spacingAndGlyphs">Unmapped %</text>
<rect x="220.6" y="508.1" width="8.7" height="9.5" fill="#0b9e73"/>
<text x="232.8" y="516.3" font-size="8.4" fill="#111" stroke="#111" stroke-width="0.15" textLength="99.09" lengthAdjust="spacingAndGlyphs">Mapped to too many loci %</text>
<rect x="220.6" y="517.5" width="8.7" height="9.5" fill="#0a72b2"/>
<text x="232.8" y="525.8" font-size="8.4" fill="#111" stroke="#111" stroke-width="0.15" textLength="59.36" lengthAdjust="spacingAndGlyphs">Multi-mapped %</text>
<rect x="220.6" y="526.9" width="8.7" height="9.5" fill="#e69f0a"/>
<text x="232.8" y="535.3" font-size="8.4" fill="#111" stroke="#111" stroke-width="0.15" textLength="73.53" lengthAdjust="spacingAndGlyphs">Uniquely mapped %</text>
<rect x="39.2" y="642.3" width="171.8" height="10.4" fill="#d9d9d9"/>
<text x="125.1" y="649.9" font-size="6.7" fill="#1a1a1a" text-anchor="middle">Mouse</text>
<text transform="matrix(0.1598 0 0 0.1800 344.19 405.57)" font-family="Liberation Sans" font-size="100" font-weight="normal" fill="#000" stroke="#000" stroke-width="2.65" stroke-linejoin="round" >k</text>
<text x="367.9" y="403.9" font-size="4.8" fill="#333" stroke="#333" stroke-width="0.12" text-anchor="end">100</text>
<line x1="368.9" y1="401.7" x2="370.2" y2="401.7" stroke="#333" stroke-width="0.6"/>
<text x="367.9" y="461.1" font-size="4.8" fill="#333" stroke="#333" stroke-width="0.12" text-anchor="end">75</text>
<line x1="368.9" y1="458.9" x2="370.2" y2="458.9" stroke="#333" stroke-width="0.6"/>
<text x="367.9" y="518.3" font-size="4.8" fill="#333" stroke="#333" stroke-width="0.12" text-anchor="end">50</text>
<line x1="368.9" y1="516.1" x2="370.2" y2="516.1" stroke="#333" stroke-width="0.6"/>
<text x="367.9" y="575.5" font-size="4.8" fill="#333" stroke="#333" stroke-width="0.12" text-anchor="end">25</text>
<line x1="368.9" y1="573.3" x2="370.2" y2="573.3" stroke="#333" stroke-width="0.6"/>
<text x="367.9" y="632.7" font-size="4.8" fill="#333" stroke="#333" stroke-width="0.12" text-anchor="end">0</text>
<line x1="368.9" y1="630.5" x2="370.2" y2="630.5" stroke="#333" stroke-width="0.6"/>
<text transform="translate(356.4,516.5) rotate(-90)" font-size="8.17" fill="#111" stroke="#111" stroke-width="0.15" text-anchor="middle">% total reads</text>
<rect x="373.7" y="401.8" width="21.4" height="6.1" fill="#f0e442"/>
<rect x="373.7" y="407.2" width="21.4" height="7.3" fill="#0b9e73"/>
<rect x="373.7" y="413.8" width="21.4" height="36.6" fill="#0a72b2"/>
<rect x="373.7" y="449.7" width="21.4" height="180.7" fill="#e69f0a"/>
<rect x="397.6" y="401.8" width="21.4" height="4.8" fill="#f0e442"/>
<rect x="397.6" y="405.9" width="21.4" height="7.7" fill="#0b9e73"/>
<rect x="397.6" y="412.9" width="21.4" height="36.6" fill="#0a72b2"/>
<rect x="397.6" y="448.8" width="21.4" height="181.6" fill="#e69f0a"/>
<rect x="421.5" y="401.8" width="21.4" height="5.8" fill="#f0e442"/>
<rect x="421.5" y="406.9" width="21.4" height="6.5" fill="#0b9e73"/>
<rect x="421.5" y="412.7" width="21.4" height="31.3" fill="#0a72b2"/>
<rect x="421.5" y="443.3" width="21.4" height="187.1" fill="#e69f0a"/>
<rect x="445.4" y="401.8" width="21.4" height="6.3" fill="#f0e442"/>
<rect x="445.4" y="407.4" width="21.4" height="7.1" fill="#0b9e73"/>
<rect x="445.4" y="413.8" width="21.4" height="33.3" fill="#0a72b2"/>
<rect x="445.4" y="446.4" width="21.4" height="184.0" fill="#e69f0a"/>
<rect x="469.3" y="401.8" width="21.4" height="7.0" fill="#f0e442"/>
<rect x="469.3" y="408.1" width="21.4" height="7.7" fill="#0b9e73"/>
<rect x="469.3" y="415.1" width="21.4" height="44.7" fill="#0a72b2"/>
<rect x="469.3" y="459.1" width="21.4" height="171.3" fill="#e69f0a"/>
<rect x="493.2" y="401.8" width="21.4" height="5.8" fill="#f0e442"/>
<rect x="493.2" y="406.9" width="21.4" height="7.4" fill="#0b9e73"/>
<rect x="493.2" y="413.6" width="21.4" height="29.8" fill="#0a72b2"/>
<rect x="493.2" y="442.7" width="21.4" height="187.7" fill="#e69f0a"/>
<rect x="517.1" y="401.8" width="21.4" height="4.8" fill="#f0e442"/>
<rect x="517.1" y="405.9" width="21.4" height="8.0" fill="#0b9e73"/>
<rect x="517.1" y="413.2" width="21.4" height="30.8" fill="#0a72b2"/>
<rect x="517.1" y="443.3" width="21.4" height="187.1" fill="#e69f0a"/>
<rect x="548.0" y="492.5" width="118.6" height="47" fill="#d3d3d3"/>
<rect x="551.5" y="498.7" width="8.7" height="9.5" fill="#f0e442"/>
<text x="563.7" y="506.8" font-size="8.4" fill="#111" stroke="#111" stroke-width="0.15" textLength="49.78" lengthAdjust="spacingAndGlyphs">Unmapped %</text>
<rect x="551.5" y="508.1" width="8.7" height="9.5" fill="#0b9e73"/>
<text x="563.7" y="516.3" font-size="8.4" fill="#111" stroke="#111" stroke-width="0.15" textLength="99.09" lengthAdjust="spacingAndGlyphs">Mapped to too many loci %</text>
<rect x="551.5" y="517.5" width="8.7" height="9.5" fill="#0a72b2"/>
<text x="563.7" y="525.8" font-size="8.4" fill="#111" stroke="#111" stroke-width="0.15" textLength="59.36" lengthAdjust="spacingAndGlyphs">Multi-mapped %</text>
<rect x="551.5" y="526.9" width="8.7" height="9.5" fill="#e69f0a"/>
<text x="563.7" y="535.3" font-size="8.4" fill="#111" stroke="#111" stroke-width="0.15" textLength="73.53" lengthAdjust="spacingAndGlyphs">Uniquely mapped %</text>
<rect x="370.4" y="642.3" width="171.4" height="10.4" fill="#d9d9d9"/>
<text x="456.1" y="649.9" font-size="6.7" fill="#1a1a1a" text-anchor="middle">Human</text>
</svg>
</body></html>
